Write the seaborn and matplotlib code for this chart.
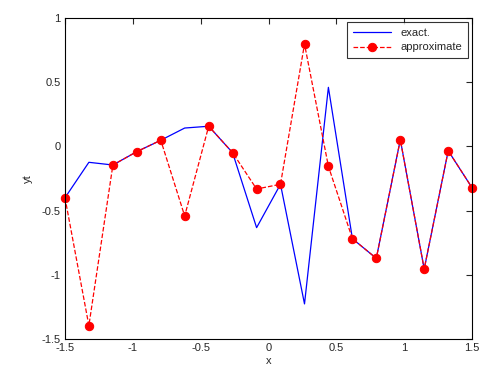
import numpy as np
import pandas as pd
import matplotlib
matplotlib.use('Agg')
import matplotlib.pyplot as plt
import seaborn as sns

# Datos (18 nodos entre -1.5 y 1.5)
x_nodos = [-1.5, -1.324, -1.147, -0.971, -0.794, -0.618, -0.441, -0.265, -0.088,
           0.088, 0.265, 0.441, 0.618, 0.794, 0.971, 1.147, 1.324, 1.5]
y_exacto = [-0.40, -0.124, -0.145, -0.041, 0.048, 0.143, 0.157, -0.049, -0.633,
            -0.295, -1.227, 0.46, -0.719, -0.872, 0.052, -0.955, -0.034, -0.323]
y_aprox = [-0.40, -1.396, -0.145, -0.041, 0.048, -0.542, 0.157, -0.049, -0.332,
           -0.295, 0.797, -0.155, -0.719, -0.872, 0.052, -0.955, -0.034, -0.323]

df = pd.DataFrame({'x': x_nodos, 'exacto': y_exacto, 'aprox': y_aprox})

sns.set_style('white')
plt.rcParams['font.family'] = ['Liberation Sans', 'DejaVu Sans']
plt.rcParams['xtick.direction'] = 'in'
plt.rcParams['ytick.direction'] = 'in'

fig = plt.figure(figsize=(4.98, 3.8), dpi=100)
ax = fig.add_axes([0.1305, 0.108, 0.8175, 0.8446])

sns.lineplot(data=df, x='x', y='exacto', ax=ax, color='blue', linewidth=0.9,
             sort=False, label='exact.')
sns.lineplot(data=df, x='x', y='aprox', ax=ax, color='red', linewidth=0.9,
             linestyle='--', marker='o', markersize=6, markeredgecolor='red',
             markerfacecolor='red', sort=False, label='approximate')
# que los marcadores del borde no se corten
for ln in ax.lines:
    ln.set_clip_on(False)

ax.set_xlim(-1.5, 1.5)
ax.set_ylim(-1.5, 1)
ax.set_xticks(np.arange(-1.5, 1.51, 0.5))
ax.set_yticks(np.arange(-1.5, 1.01, 0.5))
ax.set_xticklabels(['-1.5', '-1', '-0.5', '0', '0.5', '1', '1.5'])
ax.set_yticklabels(['-1.5', '-1', '-0.5', '0', '0.5', '1'])
ax.tick_params(axis='both', labelsize=8, length=4, width=0.8, top=True, right=True, pad=3)
ax.set_xlabel('x', fontsize=8, labelpad=2)
ax.set_ylabel('yt', fontsize=8, labelpad=6)
for s in ax.spines.values():
    s.set_color('black')
    s.set_linewidth(0.8)

leg = ax.legend(loc='upper right', fontsize=8, frameon=True, fancybox=False,
                edgecolor='black', borderaxespad=0.4, handlelength=3.5,
                borderpad=0.5, labelspacing=0.4)
leg.get_frame().set_linewidth(0.8)

fig.savefig('out.png', dpi=100, facecolor='white')
